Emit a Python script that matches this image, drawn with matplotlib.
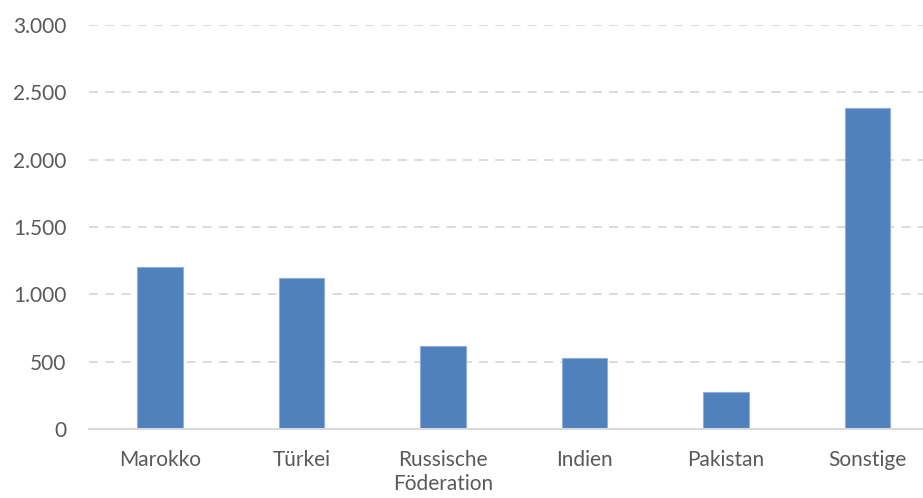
import matplotlib.pyplot as plt
from matplotlib.ticker import FuncFormatter

laender = ['Marokko', 'Türkei', 'Russische\nFöderation', 'Indien', 'Pakistan', 'Sonstige']
anzahl = [1205, 1121, 619, 525, 272, 2386]
y_ticks = [0, 500, 1000, 1500, 2000, 2500, 3000]

plt.rcParams['font.family'] = ['Lato', 'DejaVu Sans']

fig = plt.figure(figsize=(9.23, 4.98), dpi=100)
ax = fig.add_axes([0.0966, 0.1386, 0.920, 0.811])

x = range(len(laender))
ax.bar(x, anzahl, width=0.32, color='#4F81BD', edgecolor='#8FAEDB', linewidth=0.8, zorder=3)

ax.set_xlim(-0.5, len(laender) - 0.5)
ax.set_ylim(0, 3000)
ax.set_yticks(y_ticks)
ax.yaxis.set_major_formatter(FuncFormatter(lambda v, p: f'{int(v):,}'.replace(',', '.')))
ax.set_xticks(list(x))
ax.set_xticklabels(laender, linespacing=1.25)

ax.grid(axis='y', color='#D9D9D9', linestyle=(0, (5, 4)), linewidth=1.3, zorder=0)
for s in ['top', 'right', 'left']:
    ax.spines[s].set_visible(False)
ax.spines['bottom'].set_color('#D9D9D9')
ax.spines['bottom'].set_linewidth(1.5)
ax.spines['bottom'].set_zorder(4)

ax.tick_params(axis='both', length=0, labelsize=15, colors='#595959')
ax.tick_params(axis='y', pad=16.5)
ax.tick_params(axis='x', pad=15)

fig.savefig('out.png', dpi=100)
